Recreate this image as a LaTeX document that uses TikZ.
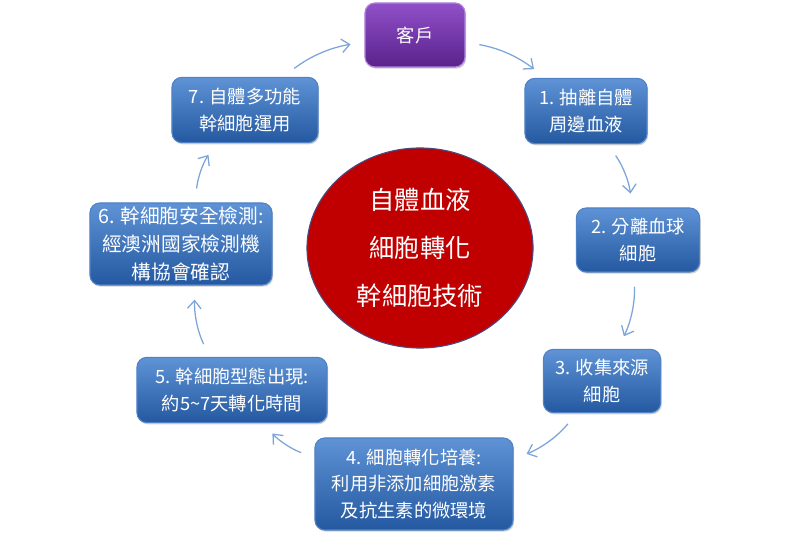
\documentclass[tikz,border=0pt]{standalone}
\usepackage{fontspec}
\setmainfont{Noto Sans CJK TC}
\usetikzlibrary{shapes.geometric,arrows.meta,shadows}
\definecolor{boxtop}{HTML}{5F93D6}
\definecolor{boxbottom}{HTML}{2458A0}
\definecolor{boxline}{HTML}{4F82C6}
\definecolor{clienttop}{HTML}{9050C8}
\definecolor{clientbottom}{HTML}{5A228C}
\definecolor{flowblue}{HTML}{7DA5DA}
\definecolor{corered}{HTML}{C00000}
\definecolor{coreline}{HTML}{4A4A80}
\tikzset{
  stepbox/.style={rectangle, rounded corners=7pt, top color=boxtop, bottom color=boxbottom,
    draw=boxline, line width=0.8pt, text=white, align=center, inner sep=0pt,
    font=\fontsize{13}{19}\selectfont,
    drop shadow={shadow xshift=0.8pt, shadow yshift=-1.2pt, opacity=0.35}},
  clientbox/.style={stepbox, top color=clienttop, bottom color=clientbottom, draw=clienttop!70!white},
  core/.style={ellipse, fill=corered, draw=coreline, line width=0.8pt, text=white, align=center,
    inner sep=0pt, font=\fontsize{18}{34}\selectfont},
  flow/.style={-{Straight Barb[length=2mm,width=3.4mm]}, flowblue, line width=0.9pt,
    shorten >=0.35cm, shorten <=0.35cm, bend left=14}
}
\begin{document}
\begin{tikzpicture}[x=0.025cm,y=-0.025cm]
	\fill[white] (0,0) rectangle (800,539);
	\useasboundingbox (0,0) rectangle (800,539);
	\def\boxh{1.63cm};
	\node[clientbox, minimum width=2.5cm, minimum height=1.6cm] (client) at (415,35) {客戶};
	\node[stepbox, minimum width=3.05cm, minimum height=\boxh] (s1) at (586,111) {1. 抽離自體\\周邊血液};
	\node[stepbox, minimum width=3.08cm, minimum height=1.6cm] (s2) at (638,240) {2. 分離血球\\細胞};
	\node[stepbox, minimum width=2.93cm, minimum height=1.58cm] (s3) at (602,381) {3. 收集來源\\細胞};
	\node[stepbox, minimum width=4.95cm, minimum height=2.3cm] (s4) at (414,484) {4. 細胞轉化培養:\\利用非添加細胞激素\\及抗生素的微環境};
	\node[stepbox, minimum width=4.75cm, minimum height=\boxh] (s5) at (232,390) {5. 幹細胞型態出現:\\約5\textasciitilde7天轉化時間};
	\node[stepbox, minimum width=4.55cm, minimum height=2.05cm, font=\fontsize{14}{20}\selectfont] (s6) at (181,244) {6. 幹細胞安全檢測:\\經澳洲國家檢測機\\構協會確認};
	\node[stepbox, minimum width=3.65cm, minimum height=\boxh] (s7) at (245,110) {7. 自體多功能\\幹細胞運用};
	\node[core, minimum width=5.65cm, minimum height=5cm] (core) at (420,248) {自體血液\\細胞轉化\\幹細胞技術};
	\draw[flow] (client.-8) to (s1.141);
	\draw[flow] (s1.-57) to (s2.100);
	\draw[flow] (s2.-97) to (s3.64);
	\draw[flow] (s3.-128) to (s4.14);
	\draw[flow] (s4.165) to (s5.-47);
	\draw[flow] (s5.124) to (s6.-71);
	\draw[flow] (s6.71) to (s7.-131);
	\draw[flow] (s7.41) to (client.188);
\end{tikzpicture}
\end{document}
